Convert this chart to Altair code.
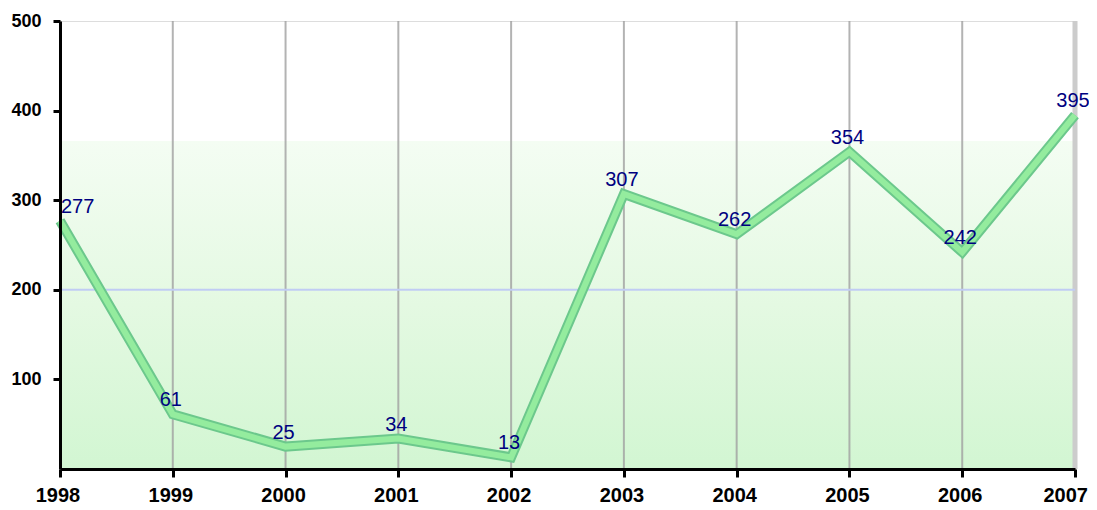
import altair as alt
import pandas as pd

years = [1998, 1999, 2000, 2001, 2002, 2003, 2004, 2005, 2006, 2007]
values = [277, 61, 25, 34, 13, 307, 262, 354, 242, 395]
y_ticks = [100, 200, 300, 400, 500]
band_top = 366

df = pd.DataFrame({"year": years, "value": values})
grid_df = pd.DataFrame({"year": years[1:-1]})
last_df = pd.DataFrame({"year": [years[-1]]})
band_df = pd.DataFrame({"year": [years[0], years[-1]], "top": [band_top, band_top]})
hline_df = pd.DataFrame({"v": [200]})
xlab_df = pd.DataFrame({"year": years[:-1], "label": [str(y) for y in years[:-1]]})
xlab_last_df = pd.DataFrame({"year": [years[-1]], "label": [str(years[-1])]})

xs = alt.Scale(domain=[1998, 2007], nice=False, zero=False)
ys = alt.Scale(domain=[0, 500], nice=False)

x_axis = alt.Axis(values=years, title=None, grid=False, labels=False,
                  tickSize=8, tickWidth=3, tickColor="#000000",
                  domainColor="#000000", domainWidth=3, zindex=1)
y_axis = alt.Axis(values=y_ticks, title=None, grid=False,
                  labelFont="Liberation Sans", labelFontWeight="bold", labelFontSize=18,
                  labelColor="#000000", labelPadding=12, tickSize=7, tickWidth=3,
                  tickColor="#000000", domainColor="#000000", domainWidth=3, zindex=1)

band = alt.Chart(band_df).mark_area(
    fill=alt.Gradient(gradient="linear", x1=0, x2=0, y1=1, y2=0,
                      stops=[alt.GradientStop(offset=0, color="#d2f6d2"),
                             alt.GradientStop(offset=0.5, color="#e4f9e2"),
                             alt.GradientStop(offset=1, color="#f4fdf3")])
).encode(
    x=alt.X("year:Q", scale=xs, axis=x_axis),
    y=alt.Y("top:Q", scale=ys, axis=y_axis),
)

vgrid = alt.Chart(grid_df).mark_rule(color="#a0a0a0", strokeWidth=2, opacity=0.8).encode(
    x=alt.X("year:Q", scale=xs), y=alt.value(0), y2=alt.value(448)
)
vlast = alt.Chart(last_df).mark_rule(color="#cccccc", strokeWidth=5).encode(
    x=alt.X("year:Q", scale=xs), y=alt.value(0), y2=alt.value(448)
)
hline = alt.Chart(hline_df).mark_rule(color="#c0ccf4", strokeWidth=2).encode(
    y=alt.Y("v:Q", scale=ys), x=alt.value(0), x2=alt.value(1015)
)

line_outer = alt.Chart(df).mark_line(color="#6cc88c", strokeWidth=10, strokeJoin="miter").encode(
    x=alt.X("year:Q", scale=xs), y=alt.Y("value:Q", scale=ys)
)
line_inner = alt.Chart(df).mark_line(color="#94ec9e", strokeWidth=6, strokeJoin="miter").encode(
    x=alt.X("year:Q", scale=xs), y=alt.Y("value:Q", scale=ys)
)

first = df[df.year == 1998]
rest = df[df.year != 1998]
labels_first = alt.Chart(first).mark_text(
    align="left", baseline="bottom", dy=-4, dx=1, font="Liberation Sans", fontSize=20, color="#000080"
).encode(x=alt.X("year:Q", scale=xs), y=alt.Y("value:Q", scale=ys), text="value:Q")
labels_rest = alt.Chart(rest).mark_text(
    align="center", baseline="bottom", dy=-4, dx=-2, font="Liberation Sans", fontSize=20, color="#000080"
).encode(x=alt.X("year:Q", scale=xs), y=alt.Y("value:Q", scale=ys), text="value:Q")

xlabels = alt.Chart(xlab_df).mark_text(
    align="center", baseline="top", dx=-2, font="Liberation Sans", fontWeight="bold",
    fontSize=20, color="#000000"
).encode(x=alt.X("year:Q", scale=xs), y=alt.value(465), text="label:N")
xlabel_last = alt.Chart(xlab_last_df).mark_text(
    align="right", baseline="top", dx=13, font="Liberation Sans", fontWeight="bold",
    fontSize=20, color="#000000"
).encode(x=alt.X("year:Q", scale=xs), y=alt.value(465), text="label:N")

chart = alt.layer(band, vgrid, vlast, hline, line_outer, line_inner,
                  labels_first, labels_rest, xlabels, xlabel_last).properties(
    width=1015, height=448,
    autosize=alt.AutoSizeParams(type="none"),
    padding={"left": 52, "top": 13, "right": 14, "bottom": 40},
).configure_view(stroke=None).configure(background="#ffffff")

chart.save("out.html", embed_options={"renderer": "svg", "actions": False})
